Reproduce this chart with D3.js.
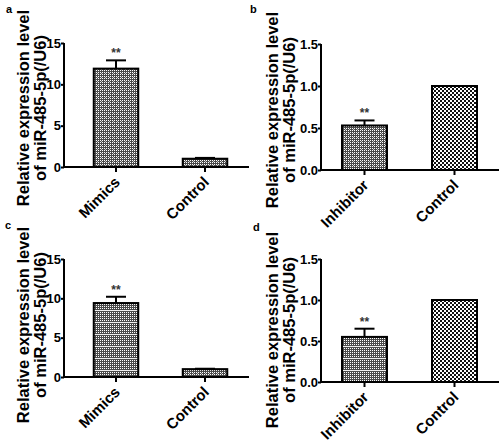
<!DOCTYPE html>
<html><head><meta charset="utf-8">
<script src="https://cdn.jsdelivr.net/npm/d3@7"></script>
<style>body{margin:0;background:#fff}svg{display:block}text{font-family:"Liberation Sans",Arial,sans-serif;font-weight:bold}</style>
</head><body>
<script>
// ---- data ----
const catsMimics = ["Mimics", "Control"];
const catsInhibitor = ["Inhibitor", "Control"];
const valuesA = [11.9, 1.0];
const errorsA = [1.0, 0.1];
const valuesB = [0.53, 1.0];
const errorsB = [0.06, 0.0];
const valuesC = [9.4, 1.0];
const errorsC = [0.8, 0.05];
const valuesD = [0.55, 1.0];
const errorsD = [0.10, 0.0];
const ticksBig = [0, 5, 10, 15];
const ticksSmall = [0.0, 0.5, 1.0, 1.5];
const sigLabels = ["**", ""];
const yTitle = ["Relative expression level", "of miR-485-5p(/U6)"];
const panelLetters = ["a", "b", "c", "d"];

const W = 500, H = 442;
const svg = d3.select("body").append("svg").attr("width", W).attr("height", H);
const defs = svg.append("defs");

// patterns
function dotPattern(id) {
  const p = defs.append("pattern").attr("id", id).attr("patternUnits", "userSpaceOnUse").attr("width", 4).attr("height", 4);
  p.append("rect").attr("width", 4).attr("height", 4).attr("fill", "#4a4a4a");
  [[0,0],[2,0],[0,2],[2,2]].forEach(([x,y]) => p.append("rect").attr("x", x).attr("y", y).attr("width", 1).attr("height", 1).attr("fill", "#fff"));
  p.append("rect").attr("x", 1).attr("y", 1).attr("width", 1).attr("height", 1).attr("fill", "#bbb");
}
function checkPattern(id) {
  const p = defs.append("pattern").attr("id", id).attr("patternUnits", "userSpaceOnUse").attr("width", 4).attr("height", 4);
  p.append("rect").attr("width", 4).attr("height", 4).attr("fill", "#fff");
  p.append("rect").attr("x", 0).attr("y", 0).attr("width", 2).attr("height", 2).attr("fill", "#111");
  p.append("rect").attr("x", 2).attr("y", 2).attr("width", 2).attr("height", 2).attr("fill", "#111");
}
function stripePattern(id) {
  const p = defs.append("pattern").attr("id", id).attr("patternUnits", "userSpaceOnUse").attr("width", 4).attr("height", 12);
  p.append("rect").attr("width", 4).attr("height", 12).attr("fill", "#4a4a4a");
  [[0,0],[2,0],[0,2],[2,2],[0,4],[2,4],[0,6],[2,6],[0,8],[2,8]].forEach(([x,y]) => p.append("rect").attr("x", x).attr("y", y).attr("width", 1).attr("height", 1).attr("fill", "#fff"));
  p.append("rect").attr("x", 0).attr("y", 10).attr("width", 4).attr("height", 1).attr("fill", "#eee");
}
dotPattern("pDot"); checkPattern("pCheck"); stripePattern("pStripe");

const panels = [
  {cats: catsMimics, vals: valuesA, errs: errorsA, ticks: ticksBig, fmt: d3.format("d"), ax: 64, yT: 43, yB: 167, xEnd: 249, band: [71.5, 249.5], fills: ["pDot","pDot"], letter: [6, 13], title: [0, 108]},
  {cats: catsInhibitor, vals: valuesB, errs: errorsB, ticks: ticksSmall, fmt: d3.format(".1f"), ax: 321, yT: 44, yB: 170, xEnd: 499, band: [319.5, 499.5], fills: ["pDot","pCheck"], letter: [250, 13], title: [249, 110]},
  {cats: catsMimics, vals: valuesC, errs: errorsC, ticks: ticksBig, fmt: d3.format("d"), ax: 64, yT: 259, yB: 377, xEnd: 249, band: [71.5, 249.5], fills: ["pStripe","pDot"], letter: [5, 229], title: [0, 325]},
  {cats: catsInhibitor, vals: valuesD, errs: errorsD, ticks: ticksSmall, fmt: d3.format(".1f"), ax: 321, yT: 259, yB: 382, xEnd: 499, band: [319.5, 499.5], fills: ["pStripe","pCheck"], letter: [253, 231], title: [249, 330]}
];

panels.forEach((p, i) => {
  const g = svg.append("g");
  const y = d3.scaleLinear().domain([p.ticks[0], p.ticks[p.ticks.length-1]]).range([p.yB, p.yT]);
  const x = d3.scaleBand().domain(p.cats).range(p.band).paddingInner(0.5).paddingOuter(0.25);

  // bars
  g.selectAll(".bar").data(p.cats).enter().append("rect")
    .attr("x", d => x(d)).attr("width", x.bandwidth())
    .attr("y", (d, k) => y(p.vals[k])).attr("height", (d, k) => y(0) - y(p.vals[k]))
    .attr("fill", (d, k) => `url(#${p.fills[k]})`)
    .attr("stroke", "#000").attr("stroke-width", 2);

  // error bars
  p.cats.forEach((c, k) => {
    if (p.errs[k] <= 0) return;
    const cx = x(c) + x.bandwidth() / 2;
    const top = y(p.vals[k] + p.errs[k]);
    g.append("line").attr("x1", cx).attr("x2", cx).attr("y1", y(p.vals[k])).attr("y2", top).attr("stroke", "#000").attr("stroke-width", 2);
    g.append("line").attr("x1", cx - 10).attr("x2", cx + 10).attr("y1", top).attr("y2", top).attr("stroke", "#000").attr("stroke-width", 2);
    if (sigLabels[k]) g.append("text").attr("x", cx).attr("y", top - 3).attr("text-anchor", "middle").attr("font-size", 12).attr("fill", "#333").text(sigLabels[k]);
  });

  // y axis
  const ya = g.append("g").attr("transform", `translate(${p.ax},0)`)
    .call(d3.axisLeft(y).tickValues(p.ticks).tickFormat(p.fmt).tickSize(3).tickPadding(0));
  ya.select(".domain").attr("stroke-width", 2).attr("d", `M0,${p.yT}V${p.yB}`);
  ya.selectAll(".tick line").attr("stroke-width", 2);
  ya.selectAll(".tick text").attr("font-size", 13).attr("font-family", "Liberation Sans, Arial, sans-serif").attr("font-weight", "bold").attr("fill", "#000");

  // x axis
  const xa = g.append("g").attr("transform", `translate(0,${p.yB})`)
    .call(d3.axisBottom(x).tickSize(5).tickSizeOuter(0));
  xa.select(".domain").attr("stroke-width", 2).attr("d", `M${p.ax},0H${p.xEnd}`);
  xa.selectAll(".tick line").attr("stroke-width", 2);
  xa.selectAll(".tick text").attr("font-size", 15).attr("font-family", "Liberation Sans, Arial, sans-serif").attr("font-weight", "bold").attr("fill", "#000")
    .attr("x", 0).attr("y", 0).attr("dy", 0)
    .attr("text-anchor", "end").attr("transform", "translate(5,16) rotate(-45)");

  // y title
  const t = g.append("text").attr("transform", `translate(${p.title[0]},${p.title[1]}) rotate(-90)`)
    .attr("text-anchor", "middle").attr("font-size", 16.5).attr("fill", "#000");
  t.append("tspan").attr("x", 0).attr("y", 29).text(yTitle[0]);
  t.append("tspan").attr("x", 0).attr("y", 45.5).text(yTitle[1]);

  // letter
  g.append("text").attr("x", p.letter[0]).attr("y", p.letter[1]).attr("font-size", 11).attr("fill", "#000").text(panelLetters[i]);
});
</script>
</body></html>
